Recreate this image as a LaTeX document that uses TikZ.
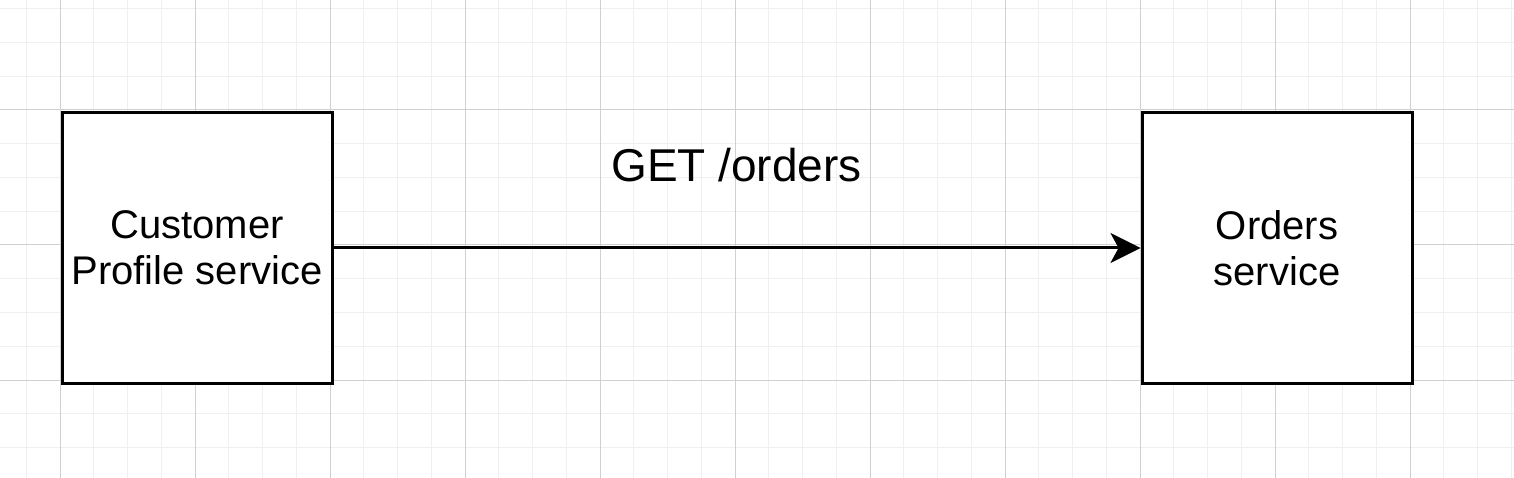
\documentclass[tikz,border=0pt]{standalone}
\usepackage{fontspec}
\setmainfont{Liberation Sans}
\usetikzlibrary{arrows.meta}
\definecolor{gridmajor}{HTML}{D0D0D0}
\definecolor{gridminor}{HTML}{F0F0F0}
\definecolor{ink}{HTML}{000000}
\tikzset{
  service/.style={draw=ink, line width=3pt, fill=white, minimum width=270pt, minimum height=270pt, inner sep=0pt, align=center, font=\fontsize{40}{46}\selectfont},
  minorline/.style={draw=gridminor, line width=1pt},
  majorline/.style={draw=gridmajor, line width=1pt},
  link/.style={draw=ink, line width=3pt, -{Stealth[length=30pt, width=30pt, inset=8pt]}},
  lbl/.style={font=\fontsize{46}{52}\selectfont, anchor=base, inner sep=0pt}
}
\begin{document}
\begin{tikzpicture}[x=1pt,y=-1pt]
\useasboundingbox (0,0) rectangle (1514,478);
\fill[white] (0,0) rectangle (1514,478);
\begin{scope}
\clip (0,0) rectangle (1514,478);
\foreach \k in {-1,...,43} {
  \draw[minorline] ({60+33.75*\k},0) -- ({60+33.75*\k},478);
}
\foreach \k in {-3,...,11} {
  \draw[minorline] (0,{110+33.75*\k}) -- (1514,{110+33.75*\k});
}
\foreach \k in {0,...,10} {
  \draw[majorline] ({60+135*\k},0) -- ({60+135*\k},478);
}
\foreach \k in {-1,...,2} {
  \draw[majorline] (0,{110+135*\k}) -- (1514,{110+135*\k});
}
\end{scope}
\node[service] (cps) at (197,248) {Customer\\Profile service};
\node[service] (ord) at (1277,248) {Orders\\service};
\draw[link] (cps.east) -- (ord.west);
\node[lbl] (get) at (736.5,182) {GET /orders};
\end{tikzpicture}
\end{document}
